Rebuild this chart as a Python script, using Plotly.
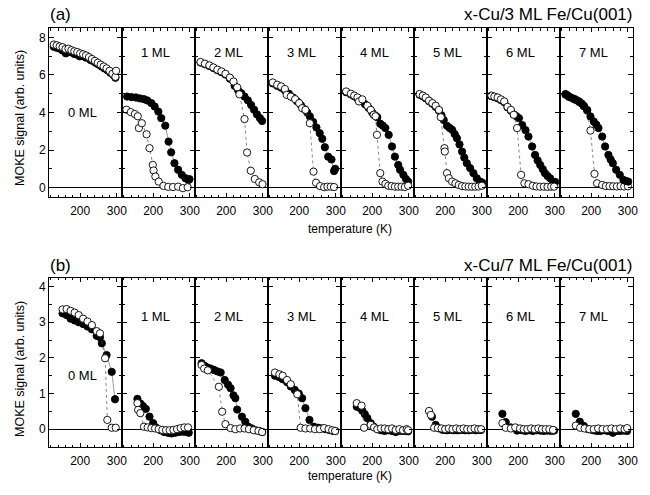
import plotly.graph_objects as go

# ---------------- data: (a) x-Cu / 3 ML Fe / Cu(001) ----------------
a0_open_T = [128, 136, 144, 152, 160, 168, 176, 184, 192, 200, 208, 216, 224, 232, 240, 248, 256, 264, 272, 280, 288, 296, 298]
a0_open_M = [7.62, 7.58, 7.52, 7.48, 7.38, 7.4, 7.32, 7.26, 7.22, 7.15, 7.1, 7.04, 6.95, 6.85, 6.75, 6.65, 6.55, 6.45, 6.35, 6.22, 6.06, 5.9, 6.22]
a0_fill_T = [128, 136, 144, 152, 161, 168, 176, 184, 192, 199, 208, 216, 228, 234, 242, 250, 258, 266, 274, 282, 290, 296]
a0_fill_M = [7.5, 7.45, 7.4, 7.3, 7.15, 7.28, 7.2, 7.12, 7.08, 6.99, 7.0, 6.92, 6.8, 6.75, 6.65, 6.55, 6.45, 6.35, 6.25, 6.12, 6.0, 5.85]

a1_open_T = [127, 139, 150, 158, 161, 169, 182, 190, 199, 201, 206, 215, 228, 241, 254, 268, 281, 294]
a1_open_M = [4.15, 4.02, 3.92, 3.8, 3.17, 3.43, 2.84, 2.1, 1.21, 0.91, 0.59, 0.32, 0.09, 0.04, 0.03, 0.05, -0.03, 0.02]
a1_fill_T = [129, 141, 153, 164, 175, 184, 195, 204, 214, 222, 233, 242, 249, 258, 268, 278, 288, 296, 299]
a1_fill_M = [4.85, 4.82, 4.8, 4.75, 4.71, 4.64, 4.5, 4.32, 4.05, 3.7, 3.3, 2.45, 1.88, 1.3, 0.95, 0.68, 0.5, 0.4, 0.45]

a2_open_T = [130, 142, 154, 165, 176, 187, 198, 210, 220, 230, 236, 250, 257, 267, 278, 290, 299]
a2_open_M = [6.69, 6.6, 6.51, 6.4, 6.28, 6.19, 6.06, 5.86, 5.65, 5.34, 4.97, 3.65, 1.87, 0.9, 0.46, 0.28, 0.18]
a2_fill_T = [130, 142, 154, 165, 176, 187, 198, 210, 223, 232, 241, 250, 259, 268, 276, 284, 292, 298]
a2_fill_M = [6.66, 6.57, 6.48, 6.37, 6.25, 6.15, 6.02, 5.8, 5.42, 5.2, 5.03, 4.85, 4.65, 4.4, 4.15, 3.9, 3.7, 3.55]

a3_open_T = [128, 140, 151, 161, 166, 177, 189, 200, 208, 217, 229, 239, 246, 257, 268, 277, 286, 295]
a3_open_M = [5.6, 5.48, 5.39, 5.25, 4.94, 4.85, 4.71, 4.5, 4.23, 4.14, 3.43, 0.85, 0.26, 0.08, 0.02, 0.05, 0.05, 0.03]
a3_fill_T = [128, 140, 151, 161, 172, 183, 194, 205, 214, 222, 229, 238, 247, 256, 263, 270, 279, 288, 295, 298]
a3_fill_M = [5.55, 5.42, 5.32, 5.18, 5.0, 4.8, 4.6, 4.38, 4.18, 4.0, 3.79, 3.5, 3.2, 2.9, 2.6, 2.15, 1.65, 1.5, 0.88, 1.0]

a4_open_T = [129, 142, 151, 160, 164, 173, 187, 196, 204, 209, 213, 222, 228, 236, 244, 253, 262, 271, 280, 289, 298]
a4_open_M = [5.12, 5.0, 4.9, 4.8, 4.59, 4.7, 4.36, 4.14, 3.88, 3.8, 2.81, 0.77, 0.32, 0.2, 0.1, 0.08, 0.05, 0.05, 0.05, 0.03, 0.1]
a4_fill_T = [129, 142, 151, 160, 170, 180, 190, 200, 208, 214, 222, 229, 236, 245, 254, 262, 271, 276, 285, 292, 298]
a4_fill_M = [5.08, 4.96, 4.86, 4.75, 4.62, 4.45, 4.25, 4.0, 3.85, 3.75, 3.4, 3.3, 3.17, 2.81, 2.19, 1.65, 1.21, 0.95, 0.68, 0.46, 0.32]

a5_open_T = [130, 139, 147, 156, 165, 174, 183, 188, 198, 199, 205, 210, 219, 228, 237, 246, 255, 264, 273, 282, 291, 300]
a5_open_M = [4.98, 4.9, 4.8, 4.63, 4.5, 4.36, 4.14, 3.75, 2.1, 1.92, 0.77, 0.5, 0.32, 0.23, 0.14, 0.08, 0.06, 0.05, 0.05, 0.05, 0.06, 0.1]
a5_fill_T = [130, 139, 147, 156, 165, 174, 183, 190, 196, 205, 212, 219, 226, 232, 239, 246, 252, 259, 268, 277, 286, 295, 301]
a5_fill_M = [4.95, 4.87, 4.76, 4.6, 4.47, 4.3, 4.1, 3.85, 3.6, 3.29, 3.18, 3.08, 2.85, 2.63, 2.3, 1.92, 1.6, 1.3, 1.04, 0.77, 0.5, 0.32, 0.27]

a6_open_T = [127, 135, 144, 153, 162, 171, 180, 188, 197, 208, 217, 228, 240, 250, 260, 270, 280, 290, 298]
a6_open_M = [4.9, 4.85, 4.8, 4.7, 4.59, 4.3, 4.14, 3.88, 3.17, 0.68, 0.23, 0.18, 0.1, 0.06, 0.05, 0.05, 0.04, 0.05, 0.05]
a6_fill_T = [127, 135, 144, 153, 162, 171, 180, 188, 195, 202, 211, 220, 228, 238, 246, 253, 260, 267, 273, 280, 287, 295, 301]
a6_fill_M = [4.87, 4.82, 4.76, 4.66, 4.55, 4.27, 4.1, 3.9, 3.8, 3.7, 3.33, 3.06, 2.72, 2.19, 1.74, 1.45, 1.21, 0.98, 0.77, 0.62, 0.5, 0.32, 0.3]

a7_open_T = [130, 140, 154, 167, 180, 189, 198, 209, 216, 230, 240, 250, 260, 270, 280, 290, 300]
a7_open_M = [4.95, 4.82, 4.7, 4.56, 4.33, 4.1, 3.04, 0.73, 0.23, 0.14, 0.08, 0.08, 0.07, 0.06, 0.08, 0.06, 0.07]
a7_fill_T = [130, 135, 140, 147, 154, 160, 167, 174, 180, 189, 198, 207, 214, 220, 230, 238, 247, 253, 259, 268, 278, 288, 295, 301]
a7_fill_M = [4.98, 4.92, 4.85, 4.78, 4.72, 4.66, 4.59, 4.48, 4.36, 4.14, 3.79, 3.52, 3.35, 3.17, 2.72, 2.19, 1.74, 1.5, 1.3, 0.95, 0.68, 0.41, 0.35, 0.32]

# ---------------- data: (b) x-Cu / 7 ML Fe / Cu(001) ----------------
b0_open_T = [152, 163, 174, 185, 196, 208, 220, 232, 245, 254, 268, 274, 286, 297]
b0_open_M = [3.36, 3.37, 3.32, 3.27, 3.2, 3.1, 3.02, 2.92, 2.75, 2.69, 1.99, 0.26, 0.04, 0.04]
b0_fill_T = [152, 163, 174, 185, 196, 208, 220, 232, 245, 254, 259, 272, 286, 295]
b0_fill_M = [3.25, 3.2, 3.1, 3.05, 3.0, 2.95, 2.88, 2.8, 2.62, 2.58, 2.41, 2.08, 1.61, 0.84]

b1_open_T = [157, 159, 165, 175, 185, 195, 205, 215, 225, 235, 245, 255, 265, 275, 285, 295]
b1_open_M = [0.73, 0.54, 0.45, 0.07, 0.05, 0.03, 0.02, 0.0, -0.02, -0.03, -0.03, -0.02, 0.0, 0.03, 0.05, 0.05]
b1_fill_T = [157, 165, 172, 180, 190, 200, 207, 220, 230, 240, 250, 260, 270, 280, 290, 297]
b1_fill_M = [0.85, 0.72, 0.65, 0.57, 0.35, 0.17, 0.05, -0.03, -0.08, -0.1, -0.12, -0.1, -0.08, -0.07, -0.08, -0.1]

b2_open_T = [133, 140, 150, 180, 189, 198, 212, 225, 238, 250, 262, 275, 288, 298]
b2_open_M = [1.8, 1.7, 1.65, 1.19, 0.49, 0.14, 0.03, 0.0, 0.02, 0.02, 0.0, -0.03, -0.05, -0.08]
b2_fill_T = [133, 141, 149, 158, 167, 176, 185, 196, 205, 212, 220, 225, 230, 243, 252, 260, 270, 280, 290, 298]
b2_fill_M = [1.85, 1.78, 1.73, 1.7, 1.66, 1.62, 1.59, 1.38, 1.25, 1.15, 0.95, 0.87, 0.55, 0.35, 0.21, 0.07, 0.02, -0.03, -0.05, -0.08]

b3_open_T = [134, 146, 155, 167, 177, 195, 204, 217, 230, 243, 256, 268, 280, 290, 298]
b3_open_M = [1.59, 1.54, 1.5, 1.38, 1.26, 0.98, 0.04, 0.02, 0.02, 0.0, 0.0, 0.03, 0.0, -0.03, -0.05]
b3_fill_T = [134, 146, 155, 167, 177, 188, 199, 208, 217, 228, 240, 252, 262, 272, 282, 292, 298]
b3_fill_M = [1.5, 1.46, 1.4, 1.32, 1.2, 1.1, 1.0, 0.87, 0.59, 0.26, 0.07, 0.04, 0.02, 0.0, -0.02, -0.05, -0.05]

b4_open_T = [158, 171, 178, 196, 205, 214, 224, 234, 244, 254, 264, 274, 284, 294, 298]
b4_open_M = [0.73, 0.66, 0.04, 0.12, 0.05, 0.0, 0.02, 0.02, 0.0, 0.02, -0.02, 0.0, -0.03, 0.0, -0.03]
b4_fill_T = [158, 166, 173, 180, 187, 196, 204, 214, 224, 234, 244, 254, 264, 274, 284, 294, 298]
b4_fill_M = [0.63, 0.6, 0.52, 0.42, 0.31, 0.17, 0.07, 0.0, -0.03, -0.05, -0.03, -0.05, -0.08, -0.05, -0.05, -0.05, -0.06]

b5_open_T = [156, 161, 170, 180, 190, 200, 210, 220, 230, 240, 250, 260, 270, 280, 290, 298]
b5_open_M = [0.51, 0.4, 0.04, 0.03, 0.02, 0.0, 0.02, 0.0, 0.02, 0.0, 0.02, 0.0, 0.0, 0.02, 0.0, 0.0]
b5_fill_T = [164, 174, 184, 194, 204, 214, 224, 234, 244, 254, 264, 274, 284, 294, 298]
b5_fill_M = [0.35, 0.12, 0.02, -0.02, -0.03, -0.02, -0.03, -0.03, -0.02, -0.03, -0.03, -0.02, -0.03, -0.02, -0.02]

b6_open_T = [157, 166, 180, 192, 205, 215, 225, 235, 245, 255, 265, 275, 285, 295]
b6_open_M = [0.17, 0.04, 0.02, 0.05, 0.02, 0.0, 0.0, 0.02, 0.0, 0.02, 0.0, 0.0, 0.0, -0.02]
b6_fill_T = [157, 166, 180, 197, 210, 220, 230, 240, 250, 260, 270, 280, 290, 298]
b6_fill_M = [0.43, 0.2, 0.05, -0.04, -0.03, -0.05, -0.03, -0.05, -0.03, -0.04, -0.05, -0.04, -0.05, -0.04]

b7_open_T = [158, 170, 182, 195, 207, 219, 231, 243, 255, 267, 279, 291, 298]
b7_open_M = [0.1, 0.04, 0.02, 0.0, 0.0, 0.02, 0.0, 0.0, 0.02, 0.0, 0.02, 0.0, 0.03]
b7_fill_T = [158, 169, 180, 192, 205, 215, 225, 235, 245, 259, 270, 280, 290, 298]
b7_fill_M = [0.43, 0.21, 0.09, 0.0, -0.03, -0.05, -0.05, -0.03, -0.05, -0.1, -0.05, -0.05, -0.04, -0.05]

panel_labels = ["0 ML", "1 ML", "2 ML", "3 ML", "4 ML", "5 ML", "6 ML", "7 ML"]
row_letters = ["(a)", "(b)"]
row_titles = ["x-Cu/3 ML Fe/Cu(001)", "x-Cu/7 ML Fe/Cu(001)"]
y_tick_a = [0, 2, 4, 6, 8]
y_tick_b = [0, 1, 2, 3, 4]
x_ticks = [200, 300]

rows_data = [
    [(a0_open_T, a0_open_M, a0_fill_T, a0_fill_M), (a1_open_T, a1_open_M, a1_fill_T, a1_fill_M),
     (a2_open_T, a2_open_M, a2_fill_T, a2_fill_M), (a3_open_T, a3_open_M, a3_fill_T, a3_fill_M),
     (a4_open_T, a4_open_M, a4_fill_T, a4_fill_M), (a5_open_T, a5_open_M, a5_fill_T, a5_fill_M),
     (a6_open_T, a6_open_M, a6_fill_T, a6_fill_M), (a7_open_T, a7_open_M, a7_fill_T, a7_fill_M)],
    [(b0_open_T, b0_open_M, b0_fill_T, b0_fill_M), (b1_open_T, b1_open_M, b1_fill_T, b1_fill_M),
     (b2_open_T, b2_open_M, b2_fill_T, b2_fill_M), (b3_open_T, b3_open_M, b3_fill_T, b3_fill_M),
     (b4_open_T, b4_open_M, b4_fill_T, b4_fill_M), (b5_open_T, b5_open_M, b5_fill_T, b5_fill_M),
     (b6_open_T, b6_open_M, b6_fill_T, b6_fill_M), (b7_open_T, b7_open_M, b7_fill_T, b7_fill_M)],
]

# ---------------- layout geometry (pixels) ----------------
W, H = 650, 495
LEFT, PW = 49, 73
row_geo = [
    dict(top=28, bot=197, yr=[-0.5, 8.5], ticks=y_tick_a, minor=1, lab_y=7.2, lab0_y=4.0, title_y=15, xt_y=229, yt_y=118),
    dict(top=277.7, bot=447, yr=[-0.5, 4.25], ticks=y_tick_b, minor=0.5, lab_y=3.15, lab0_y=1.52, title_y=265, xt_y=476, yt_y=369),
]
XR = [115, 314]
FONT = "Liberation Sans, Arial, Helvetica, sans-serif"

fig = go.Figure()
layout = dict(
    width=W, height=H, margin=dict(l=0, r=0, t=0, b=0, autoexpand=False),
    paper_bgcolor="white", plot_bgcolor="white", showlegend=False,
    font=dict(family=FONT, color="black", size=12),
)
annotations = []

for r, geo in enumerate(row_geo):
    for k in range(8):
        idx = r * 8 + k + 1
        xa = "xaxis" if idx == 1 else f"xaxis{idx}"
        ya = "yaxis" if idx == 1 else f"yaxis{idx}"
        xref = "x" if idx == 1 else f"x{idx}"
        yref = "y" if idx == 1 else f"y{idx}"
        x0 = (LEFT + PW * k) / W
        x1 = (LEFT + PW * (k + 1)) / W
        layout[xa] = dict(
            domain=[x0, x1], range=XR, anchor=yref,
            tickmode="array", tickvals=x_ticks, ticktext=[str(v) for v in x_ticks],
            ticks="inside", ticklen=4, tickwidth=1, tickcolor="black",
            minor=dict(tickmode="linear", tick0=0, dtick=20, ticks="inside", ticklen=2.5, tickwidth=1, tickcolor="black", showgrid=False),
            showline=True, linecolor="black", linewidth=1, mirror="ticks",
            showgrid=False, zeroline=False, tickfont=dict(size=12, family=FONT),
            ticklabelstandoff=3, fixedrange=True,
        )
        layout[ya] = dict(
            domain=[1 - geo["bot"] / H, 1 - geo["top"] / H], range=geo["yr"], anchor=xref,
            tickmode="array", tickvals=geo["ticks"], ticktext=[str(v) for v in geo["ticks"]],
            showticklabels=(k == 0),
            ticks="inside", ticklen=5, tickwidth=1, tickcolor="black",
            minor=dict(tickmode="linear", tick0=0, dtick=geo["minor"], ticks="inside", ticklen=3, tickwidth=1, tickcolor="black", showgrid=False),
            showline=True, linecolor="black", linewidth=1, mirror="ticks",
            showgrid=False, zeroline=True, zerolinecolor="black", zerolinewidth=1.2,
            tickfont=dict(size=12, family=FONT), fixedrange=True,
        )
        oT, oM, fT, fM = rows_data[r][k]
        open_tr = go.Scatter(
            x=oT, y=oM, xaxis=xref, yaxis=yref, mode="lines+markers",
            line=dict(color="#555555", width=0.7, dash="dot"),
            marker=dict(symbol="circle", size=7.3, color="white", line=dict(color="black", width=0.9)),
            hoverinfo="skip",
        )
        fill_tr = go.Scatter(
            x=fT, y=fM, xaxis=xref, yaxis=yref, mode="lines+markers",
            line=dict(color="#555555", width=0.6),
            marker=dict(symbol="circle", size=7.3, color="black", line=dict(color="black", width=0.9)),
            hoverinfo="skip",
        )
        if r == 0 and k == 7:
            fig.add_trace(open_tr)
            fig.add_trace(fill_tr)
        else:
            fig.add_trace(fill_tr)
            fig.add_trace(open_tr)
        annotations.append(dict(
            x=206, y=(geo["lab0_y"] if k == 0 else geo["lab_y"]), xref=xref, yref=yref,
            text=panel_labels[k], showarrow=False, font=dict(size=13, family=FONT),
            xanchor="center", yanchor="middle",
        ))
    # row texts
    annotations.append(dict(x=LEFT / W - 0.002, y=1 - geo["title_y"] / H, xref="paper", yref="paper",
                            text=row_letters[r], showarrow=False, xanchor="left", yanchor="middle",
                            font=dict(size=17, family=FONT)))
    annotations.append(dict(x=634 / W, y=1 - geo["title_y"] / H, xref="paper", yref="paper",
                            text=row_titles[r], showarrow=False, xanchor="right", yanchor="middle",
                            font=dict(size=17, family=FONT)))
    annotations.append(dict(x=20 / W, y=1 - geo["yt_y"] / H, xref="paper", yref="paper",
                            text="MOKE signal (arb. units)", textangle=-90, showarrow=False,
                            xanchor="center", yanchor="middle", font=dict(size=12.5, family=FONT)))
    annotations.append(dict(x=350 / W, y=1 - geo["xt_y"] / H, xref="paper", yref="paper",
                            text="temperature (K)", showarrow=False, xanchor="center", yanchor="middle",
                            font=dict(size=12, family=FONT)))

layout["annotations"] = annotations
fig.update_layout(**layout)
fig.write_html("out.html")
